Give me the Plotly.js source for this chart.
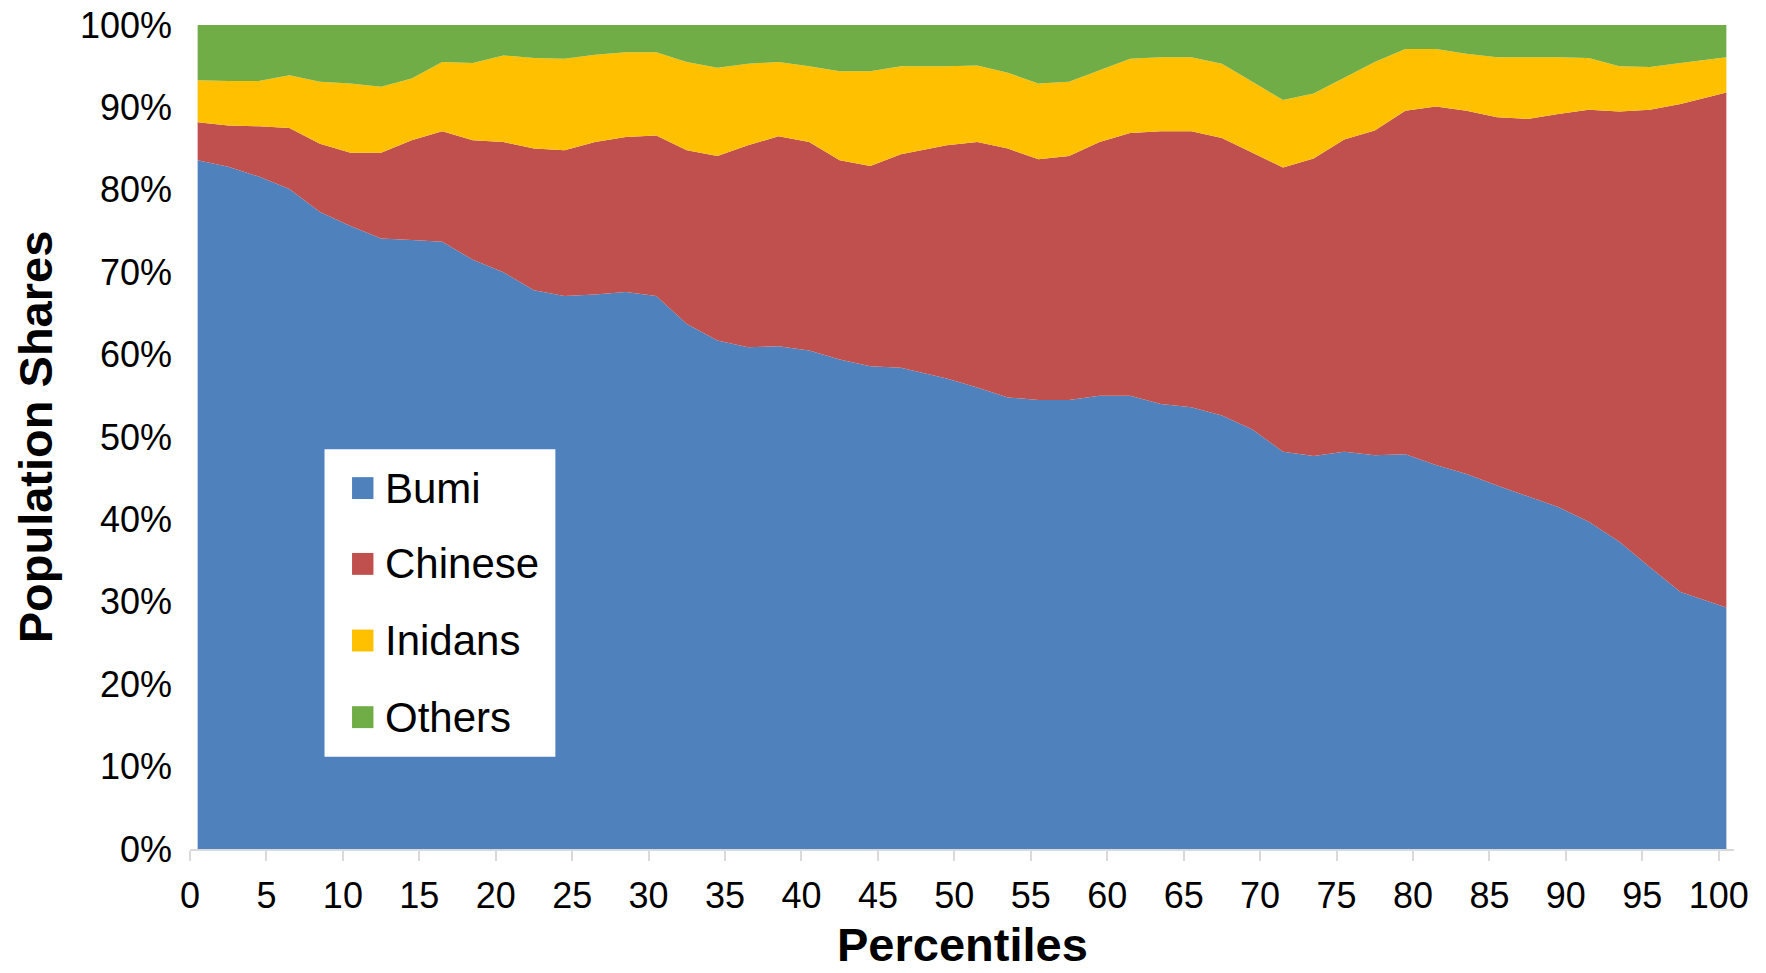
<!DOCTYPE html>
<html>
<head>
<meta charset="utf-8">
<script src="https://cdn.plot.ly/plotly-3.0.1.min.js"></script>
<style>
html,body{margin:0;padding:0;background:#ffffff;}
#chart{width:1766px;height:973px;}
</style>
</head>
<body>
<div id="chart"></div>
<script>
// Percentile positions of the data points
const percentiles = [0.5,2.5,4.5,6.5,8.5,10.5,12.5,14.5,16.5,18.5,20.5,22.5,24.5,26.5,28.5,30.5,32.5,34.5,36.5,38.5,40.5,42.5,44.5,46.5,
  49.5,51.5,53.5,55.5,57.5,59.5,61.5,63.5,65.5,67.5,69.5,71.5,73.5,75.5,77.5,79.5,81.5,83.5,85.5,87.5,89.5,91.5,93.5,95.5,97.5,100.5];

// Population shares (%) by group
const bumi = [83.6,82.8,81.6,80.1,77.3,75.6,74.1,73.9,73.7,71.5,70.0,67.8,67.1,67.3,67.6,67.1,63.7,61.7,60.9,61.0,60.5,59.4,58.6,58.4,
  57.1,56.0,54.8,54.5,54.5,55.0,55.0,54.0,53.6,52.6,50.9,48.2,47.7,48.2,47.8,47.9,46.6,45.5,44.1,42.8,41.5,39.7,37.3,34.2,31.2,29.3];
const chinese = [4.6,5.0,6.1,7.4,8.3,8.9,10.4,12.1,13.4,14.5,15.8,17.2,17.7,18.5,18.8,19.5,21.1,22.4,24.5,25.5,25.3,24.2,24.3,25.9,
  28.3,29.8,30.2,29.2,29.6,30.8,31.9,33.1,33.5,33.7,33.6,34.5,36.1,37.9,39.4,41.7,43.5,44.1,44.7,45.8,47.7,50.0,52.2,55.5,59.2,62.5];
const indians = [5.1,5.4,5.5,6.4,7.5,8.4,8.0,7.5,8.4,9.4,10.5,11.0,11.1,10.6,10.3,10.1,10.7,10.7,9.9,9.0,9.2,10.8,11.5,10.7,
  9.6,9.3,9.2,9.2,9.0,8.7,9.0,9.0,9.0,9.0,8.6,8.2,7.9,7.5,8.3,7.5,7.0,6.9,7.3,7.5,6.9,6.3,5.5,5.2,5.0,4.3];
const others = [6.7,6.8,6.8,6.1,6.9,7.1,7.5,6.5,4.5,4.6,3.7,4.0,4.1,3.6,3.3,3.3,4.5,5.2,4.7,4.5,5.0,5.6,5.6,5.0,
  5.0,4.9,5.8,7.1,6.9,5.5,4.1,3.9,3.9,4.7,6.9,9.1,8.3,6.4,4.5,2.9,2.9,3.5,3.9,3.9,3.9,4.0,5.0,5.1,4.6,3.9];

const seriesNames = ['Bumi','Chinese','Inidans','Others'];
const seriesColors = ['#4F81BD','#C0504D','#FFC000','#70AD47'];

const xTickVals = [0,5,10,15,20,25,30,35,40,45,50,55,60,65,70,75,80,85,90,95,100];
const yTickVals = [0,10,20,30,40,50,60,70,80,90,100];
const xTitle = 'Percentiles';
const yTitle = 'Population Shares';

const FONT = '"Liberation Sans", Arial, Helvetica, sans-serif';

const seriesData = [bumi, chinese, indians, others];
const traces = seriesData.map((vals, i) => ({
  type: 'scatter',
  mode: 'none',
  x: percentiles,
  y: vals,
  name: seriesNames[i],
  stackgroup: 'one',
  fillcolor: seriesColors[i],
  line: {width: 0},
  hoverinfo: 'x+y+name',
  showlegend: false
}));

// Custom legend (box, colour squares, labels), in data coordinates
const legendBox = {x0: 8.8, x1: 23.9, y0: 11.2, y1: 48.5};
const legendItemY = [43.8, 34.6, 25.3, 16.0];
const shapes = [{
  type: 'rect', xref: 'x', yref: 'y', layer: 'above',
  x0: legendBox.x0, x1: legendBox.x1, y0: legendBox.y0, y1: legendBox.y1,
  fillcolor: '#FFFFFF', line: {width: 0}
}];
const annotations = [];
seriesNames.forEach((nm, i) => {
  shapes.push({
    type: 'rect', xref: 'x', yref: 'y', layer: 'above',
    x0: 10.6, x1: 12.0, y0: legendItemY[i] - 1.33, y1: legendItemY[i] + 1.33,
    fillcolor: seriesColors[i], line: {width: 0}
  });
  annotations.push({
    xref: 'x', yref: 'y', x: 12.6, y: legendItemY[i],
    xanchor: 'left', yanchor: 'middle', showarrow: false,
    text: nm, font: {family: FONT, size: 42, color: '#000000'}
  });
});
// X axis title placed as an annotation for exact vertical placement
annotations.push({
  xref: 'paper', yref: 'paper', x: 0.5, y: -0.1155,
  xanchor: 'center', yanchor: 'middle', showarrow: false,
  text: '<b>' + xTitle + '</b>',
  font: {family: FONT, size: 47, color: '#000000'}
});

const layout = {
  width: 1766,
  height: 973,
  margin: {l: 190, r: 32, t: 25, b: 124, pad: 0},
  paper_bgcolor: '#FFFFFF',
  plot_bgcolor: '#FFFFFF',
  font: {family: FONT, color: '#000000', size: 36},
  showlegend: false,
  xaxis: {
    range: [0, 101],
    tickvals: xTickVals,
    ticktext: xTickVals.map(String),
    ticks: 'outside',
    ticklen: 10,
    tickwidth: 2,
    tickcolor: '#D9D9D9',
    showline: true,
    linecolor: '#D9D9D9',
    linewidth: 2,
    showgrid: false,
    zeroline: false,
    tickfont: {family: FONT, size: 36, color: '#000000'},
    ticklabelstandoff: 4,
    automargin: false
  },
  yaxis: {
    range: [0, 100],
    tickvals: yTickVals,
    ticktext: yTickVals.map(v => v + '%'),
    ticks: '',
    showline: false,
    showgrid: false,
    zeroline: false,
    tickfont: {family: FONT, size: 36, color: '#000000'},
    ticklabelstandoff: 17,
    automargin: false,
    title: {text: yTitle, font: {family: FONT, size: 47, weight: 'bold', color: '#000000'}, standoff: 12}
  },
  shapes: shapes,
  annotations: annotations
};

Plotly.newPlot('chart', traces, layout, {displayModeBar: false, staticPlot: true});
</script>
</body>
</html>
